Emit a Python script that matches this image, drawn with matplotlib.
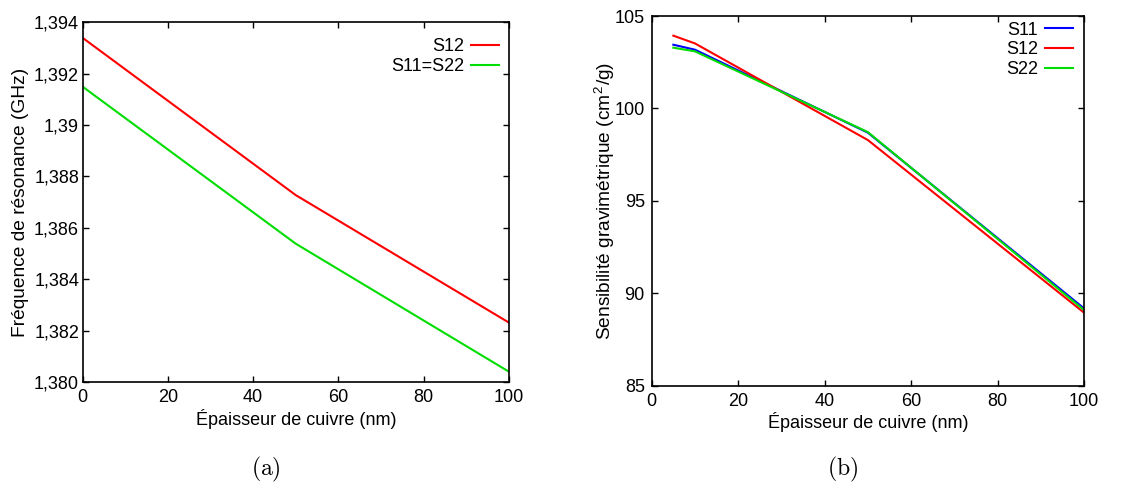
import matplotlib
matplotlib.use("Agg")
import matplotlib.pyplot as plt

plt.rcParams['font.family'] = ['Liberation Sans', 'DejaVu Sans']
plt.rcParams['mathtext.fontset'] = 'cm'

# Panel (a): resonance frequency vs copper thickness
thick_a = [0, 50, 100]
freq_s12 = [1.39339, 1.38727, 1.38231]
freq_s11_s22 = [1.39149, 1.38538, 1.38040]
yticks_a = [1.380, 1.382, 1.384, 1.386, 1.388, 1.390, 1.392, 1.394]
yticklabels_a = ['1,380', '1,382', '1,384', '1,386', '1,388', '1,39', '1,392', '1,394']

# Panel (b): gravimetric sensitivity vs copper thickness
thick_b = [5, 10, 50, 100]
sens_s11 = [103.45, 103.18, 98.69, 89.18]
sens_s12 = [103.94, 103.52, 98.29, 88.95]
sens_s22 = [103.29, 103.09, 98.72, 89.09]
yticks_b = [85, 90, 95, 100, 105]
xticks = [0, 20, 40, 60, 80, 100]

RED = '#ff0000'
GREEN = '#00dd00'
BLUE = '#0000ff'
FS = 13

fig = plt.figure(figsize=(11.45, 4.87), dpi=100)
axa = fig.add_axes([0.0721, 0.2156, 0.3724, 0.739])
axb = fig.add_axes([0.5692, 0.208, 0.3776, 0.759])

def style(ax, ypad):
    for s in ax.spines.values():
        s.set_linewidth(1.2)
    ax.tick_params(direction='in', length=4.5, width=1.0, top=True, right=True,
                   labelsize=FS, pad=5)
    ax.tick_params(axis='y', pad=ypad)
    ax.set_xlim(0, 100)
    ax.set_xticks(xticks)
    ax.set_xticklabels([str(t) for t in xticks])

axa.plot(thick_a, freq_s12, color=RED, lw=1.5, label='S12')
axa.plot(thick_a, freq_s11_s22, color=GREEN, lw=1.5, label='S11=S22')
style(axa, 2.5)
axa.set_ylim(1.380, 1.394)
axa.set_yticks(yticks_a)
axa.set_yticklabels(yticklabels_a)
axa.set_xlabel('Épaisseur de cuivre (nm)', fontsize=FS, labelpad=2)
axa.set_ylabel('Fréquence de résonance (GHz)', fontsize=13.8, labelpad=3.5)
axa.legend(loc='upper right', bbox_to_anchor=(0.977, 0.955), frameon=False,
           markerfirst=False, fontsize=FS, handlelength=1.55, handletextpad=0.4,
           labelspacing=0.17, borderaxespad=0, borderpad=0)

axb.plot(thick_b, sens_s11, color=BLUE, lw=1.5, label='S11')
axb.plot(thick_b, sens_s12, color=RED, lw=1.5, label='S12')
axb.plot(thick_b, sens_s22, color=GREEN, lw=1.5, label='S22')
style(axb, 5)
axb.set_ylim(85, 105)
axb.set_yticks(yticks_b)
axb.set_yticklabels([str(t) for t in yticks_b])
axb.set_xlabel('Épaisseur de cuivre (nm)', fontsize=FS, labelpad=1.5)
axb.set_ylabel('Sensibilité gravimétrique (cm$^\\mathregular{2}$/g)', fontsize=13.8, labelpad=-2)
axb.legend(loc='upper right', bbox_to_anchor=(0.975, 0.985), frameon=False,
           markerfirst=False, fontsize=FS, handlelength=1.55, handletextpad=0.4,
           labelspacing=0.15, borderaxespad=0, borderpad=0)

fig.text(266 / 1145, 1 - 469 / 487, r'$\mathrm{(a)}$', fontsize=17, ha='center', va='center')
fig.text(843 / 1145, 1 - 469 / 487, r'$\mathrm{(b)}$', fontsize=17, ha='center', va='center')

fig.savefig('out.png', dpi=100)
